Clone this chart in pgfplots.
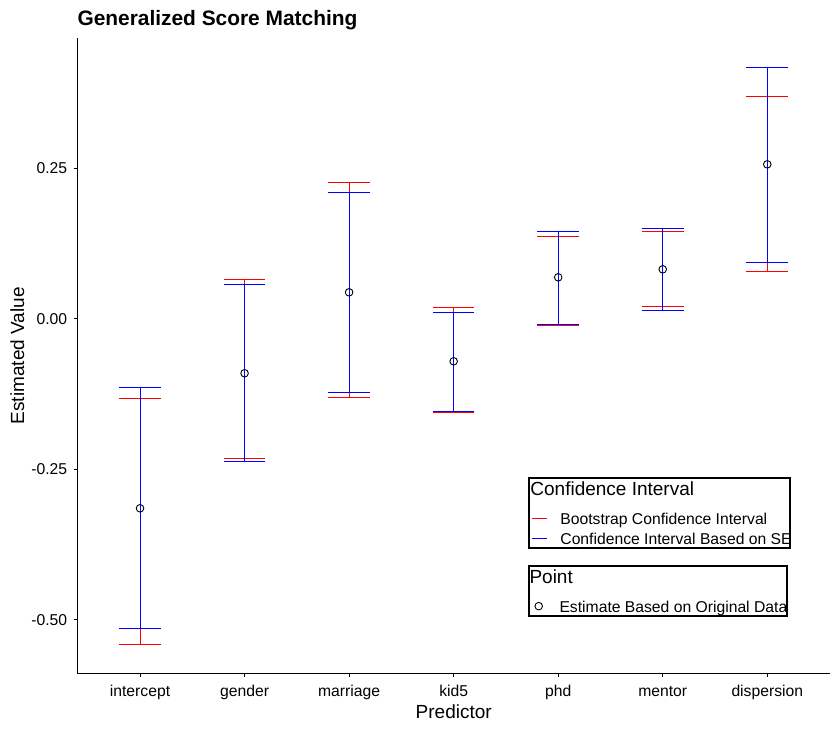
\documentclass[border=0pt]{standalone}
\usepackage{fontspec}
\setmainfont{Liberation Sans}
\usepackage{pgfplots}
\usepackage{pgfplotstable}
\pgfplotsset{compat=1.18}

\pgfplotstableread{
x  pt      rlo     rhi     blo     bhi
0 -0.3148 -0.5407 -0.1321 -0.5141 -0.1138
1 -0.0905 -0.2317  0.0656 -0.2362  0.0573
2  0.0440 -0.1304  0.2267 -0.1221  0.2101
3 -0.0706 -0.1553  0.0191 -0.1537  0.0108
4  0.0689 -0.0108  0.1370 -0.0091  0.1453
5  0.0822  0.0208  0.1453  0.0141  0.1503
6  0.2566  0.0789  0.3696  0.0939  0.4183
}\datatable

\newcommand{\ticksize}{\fontsize{15.7}{18}\selectfont}
\newcommand{\titlesize}{\fontsize{19}{22}\selectfont}

\pgfplotsset{
  common/.style={
    scale only axis,
    width=752.7pt, height=635pt,
    at={(77.3pt,57.7pt)}, anchor=south west,
    xmin=-0.6, xmax=6.6,
    ymin=-0.5889, ymax=0.4660,
    legend image code/.code={\path[draw=none, fill=none] (0pt,0pt) -- (15pt,0pt);\draw[mark repeat=2,mark phase=2,##1] plot coordinates {(0pt,0pt)(7.5pt,0pt)(15pt,0pt)};},
  },
  legbox/.style={
    legend style={
      at={(0.5992,#1)}, anchor=north west,
      draw=black, line width=1.8pt, fill=white,
      inner xsep=2pt, inner ysep=0pt,
      column sep=13.3pt, row sep=0pt,
      font=\ticksize,
      nodes={inner sep=0pt, text depth={}, text height={}},
      cells={anchor=west},
    },
  },
}

\begin{document}
\begin{tikzpicture}
\useasboundingbox (0,0) rectangle (840pt,731pt);
\begin{axis}[
  common, legbox=0.3091,
  axis x line*=bottom, axis y line*=left,
  axis line style={black, line width=0.8pt},
  tick align=outside, major tick length=3.7pt,
  tick style={black, line width=0.8pt},
  xtick={0,1,2,3,4,5,6},
  xticklabels={intercept,gender,marriage,kid5,phd,mentor,dispersion},
  ytick={-0.5,-0.25,0,0.25},
  yticklabels={-0.50,-0.25,0.00,0.25},
  xticklabel style={font=\ticksize, anchor=base, inner sep=0pt, yshift=-19pt},
  yticklabel style={font=\ticksize, anchor=east, inner sep=0pt, xshift=-6.3pt},
]
\addplot[draw=none, mark=none, forget plot,
  error bars/.cd, y dir=both, y explicit,
  error bar style={red, solid, line width=0.9pt},
  error mark options={rotate=90, red, solid, line width=0.9pt, mark size=20.8pt}]
  table[x=x, y=pt, y error plus expr=\thisrow{rhi}-\thisrow{pt}, y error minus expr=\thisrow{pt}-\thisrow{rlo}] {\datatable};
\addplot[draw=none, mark=none, forget plot,
  error bars/.cd, y dir=both, y explicit,
  error bar style={blue, solid, line width=0.9pt},
  error mark options={rotate=90, blue, solid, line width=0.9pt, mark size=20.8pt}]
  table[x=x, y=pt, y error plus expr=\thisrow{bhi}-\thisrow{pt}, y error minus expr=\thisrow{pt}-\thisrow{blo}] {\datatable};
\addlegendimage{empty legend}
\addlegendentry{\titlesize\hspace*{-30pt}\rule[-12.6pt]{0pt}{30.3pt}Confidence Interval}
\addlegendimage{draw=red, line width=0.9pt}
\addlegendentry{\rule[-3.3pt]{0pt}{20pt}Bootstrap Confidence Interval}
\addlegendimage{draw=blue, line width=0.9pt}
\addlegendentry{\rule[-3.3pt]{0pt}{20pt}Confidence Interval Based on SE\hspace*{-4.1pt}}
\end{axis}
\begin{axis}[
  common, legbox=0.1706,
  hide axis,
]
\addlegendimage{empty legend}
\addlegendentry{\titlesize\hspace*{-30pt}\rule[-12.6pt]{0pt}{30.3pt}Point}
\addplot[only marks, mark=o, mark size=3.8pt, mark options={draw=black, line width=0.9pt}]
  table[x=x, y=pt] {\datatable};
\addlegendentry{\rule[-1.3pt]{0pt}{18pt}Estimate Based on Original Data\hspace*{-2pt}}
\end{axis}
\node[anchor=base west, inner sep=0pt, font=\fontsize{20.9}{24}\selectfont\bfseries] at (77.3pt,705.3pt) {Generalized Score Matching};
\node[anchor=base, inner sep=0pt, font=\titlesize] at (453.7pt,13pt) {Predictor};
\node[anchor=base, inner sep=0pt, rotate=90, font=\titlesize] at (24pt,375.2pt) {Estimated Value};
\end{tikzpicture}
\end{document}
